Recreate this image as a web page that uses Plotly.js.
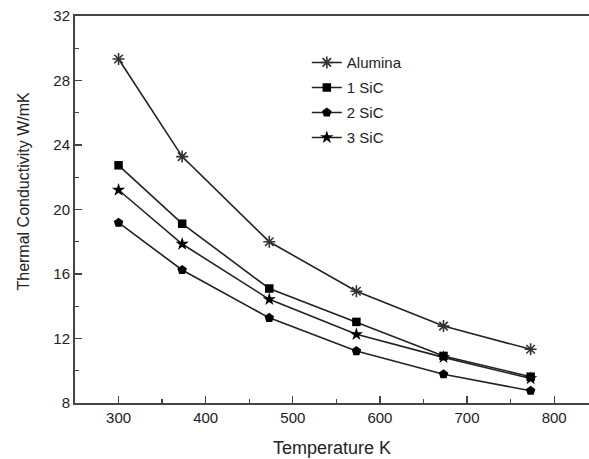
<!DOCTYPE html>
<html>
<head>
<meta charset="utf-8">
<script src="https://cdn.plot.ly/plotly-3.0.1.min.js"></script>
<style>html,body{margin:0;padding:0;background:#fff;}#chart{width:589px;height:459px;}</style>
</head>
<body>
<div id="chart"></div>
<script>
var temperature = [300, 373, 473, 573, 673, 773];
var alumina = [29.33, 23.28, 18.0, 14.93, 12.77, 11.33];
var sic1 = [22.74, 19.12, 15.1, 13.03, 10.92, 9.63];
var sic2 = [19.18, 16.25, 13.28, 11.22, 9.78, 8.76];
var sic3 = [21.21, 17.86, 14.43, 12.26, 10.83, 9.52];
var seriesNames = ['Alumina', '1 SiC', '2 SiC', '3 SiC'];
var xTitle = 'Temperature K';
var yTitle = 'Thermal Conductivity W/mK';

function tr(y, name, sym, size, col, open) {
  return {
    x: temperature, y: y, name: name, legendgroup: name,
    type: 'scatter', mode: 'lines+markers',
    line: {color: '#222', width: 1.6},
    marker: {symbol: sym, size: size, color: col, line: {color: col, width: open ? 1.6 : 0}}
  };
}
var data = [
  tr(alumina, seriesNames[0], 'asterisk-open', 10, '#333', true),
  tr(sic1, seriesNames[1], 'square', 8.5, '#000', false),
  tr(sic2, seriesNames[2], 'pentagon', 10, '#000', false),
  tr(sic3, seriesNames[3], 'star', 10, '#000', false)
];
var fam = 'Liberation Sans, Arial, sans-serif';
var axFont = {family: fam, size: 15, color: '#222'};
var layout = {
  width: 589, height: 459,
  margin: {l: 75, r: 0, t: 16, b: 56},
  paper_bgcolor: '#fff', plot_bgcolor: '#fff',
  showlegend: true,
  legend: {x: 0.451, y: 0.922, xanchor: 'left', yanchor: 'top', tracegroupgap: 2.5,
           font: {family: fam, size: 15, color: '#222'},
           bgcolor: 'rgba(0,0,0,0)'},
  xaxis: {
    range: [250, 840], tick0: 300, dtick: 100, ticks: 'inside', ticklen: 7, tickwidth: 1.3, tickcolor: '#444',
    minor: {dtick: 50, ticks: 'inside', ticklen: 4, tickwidth: 1.3, tickcolor: '#444'},
    showline: true, linecolor: '#444', linewidth: 2, mirror: true,
    showgrid: false, zeroline: false, tickfont: axFont
  },
  yaxis: {
    range: [8, 32], tick0: 8, dtick: 4, ticks: 'inside', ticklen: 7, tickwidth: 1.3, tickcolor: '#444',
    minor: {dtick: 2, ticks: 'inside', ticklen: 4, tickwidth: 1.3, tickcolor: '#444'},
    showline: true, linecolor: '#444', linewidth: 2, mirror: false,
    showgrid: false, zeroline: false, tickfont: axFont
  },
  annotations: [
    {text: xTitle, xref: 'paper', yref: 'paper', x: 0.5, y: -0.115, xanchor: 'center', yanchor: 'middle',
     showarrow: false, font: {family: fam, size: 18, color: '#222'}},
    {text: yTitle, xref: 'paper', yref: 'paper', x: -0.1, y: 0.548, xanchor: 'center', yanchor: 'middle',
     textangle: -90, showarrow: false, font: {family: fam, size: 16, color: '#222'}}
  ]
};
Plotly.newPlot('chart', data, layout, {displayModeBar: false, staticPlot: true});
</script>
</body>
</html>
